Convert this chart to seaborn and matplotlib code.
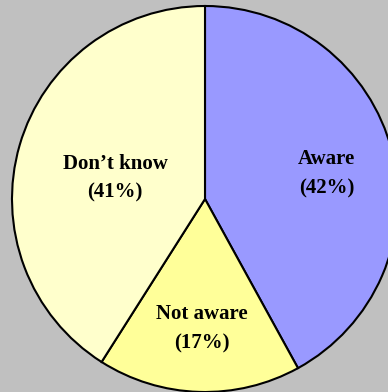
import numpy as np
import matplotlib
matplotlib.use("Agg")
import matplotlib.pyplot as plt
import matplotlib.transforms as mtransforms
import seaborn as sns

categories = ["Aware", "Not aware", "Don\u2019t know"]
shares = [42, 17, 41]
slice_colors = ["#9999FF", "#FFFF99", "#FFFFCC"]

sns.set_style("white")
plt.rcParams["font.family"] = ["Liberation Serif", "DejaVu Serif"]

W, H, dpi = 388, 392, 100
fig = plt.figure(figsize=(W / dpi, H / dpi), dpi=dpi, facecolor="#C0C0C0")
ax = fig.add_axes([0, 0, 1, 1])
ax.set_facecolor("#C0C0C0")

R = 193.0
cx, cy = 205.0, H - 199.0
labels = [f"{c}\n({v}%)" for c, v in zip(categories, shares)]
wedges, texts = ax.pie(
    shares, colors=slice_colors, startangle=90, counterclock=False,
    labels=labels, labeldistance=0.645, radius=1.0,
    wedgeprops=dict(edgecolor="black", linewidth=1.5),
    textprops=dict(fontsize=15, fontweight="bold", color="black",
                   ha="center", va="center", linespacing=1.6),
    frame=True,
)
shift = mtransforms.offset_copy(ax.transData, fig=fig, x=1, y=-5.5, units="dots")
for w, t, c in zip(wedges, texts, categories):
    t.set_ha("center")
    t.set_va("center")
    t.set_transform(shift)
    if c.startswith("Don"):
        ang = np.deg2rad((w.theta1 + w.theta2) / 2)
        t.set_position((0.49 * np.cos(ang), 0.49 * np.sin(ang)))

ax.set_xlim(-cx / R, (W - cx) / R)
ax.set_ylim(-cy / R, (H - cy) / R)
ax.set_aspect("equal", adjustable="box")
ax.axis("off")

fig.savefig("out.png", dpi=dpi, facecolor="#C0C0C0")
